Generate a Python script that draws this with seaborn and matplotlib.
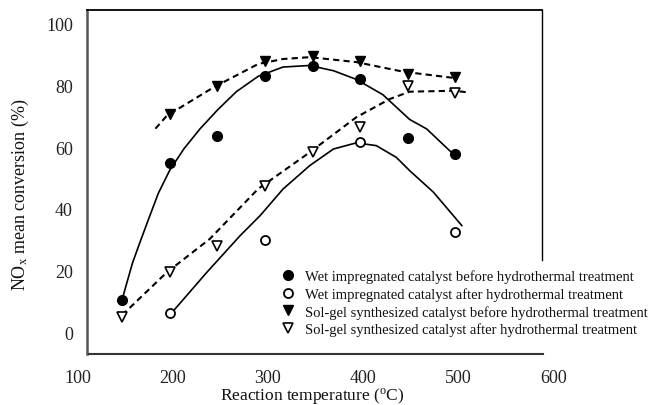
import matplotlib
matplotlib.use("Agg")
import matplotlib.pyplot as plt
import matplotlib.transforms as mtransforms
import seaborn as sns
import pandas as pd

# ---- data ----
temps_wet_before = [150, 200, 250, 300, 350, 400, 450, 500]
conv_wet_before = [10.4, 55, 63.7, 83.2, 86.3, 82.1, 63, 57.8]
temps_wet_after = [200, 300, 400, 500]
conv_wet_after = [6.2, 30, 61.8, 32.4]
temps_sol_before = [200, 250, 300, 350, 400, 450, 500]
conv_sol_before = [70.8, 79.8, 87.8, 89.5, 88.1, 83.8, 82.7]
temps_sol_after = [150, 200, 250, 300, 350, 400, 450, 500]
conv_sol_after = [5, 19.4, 28, 47.3, 58.3, 66.5, 79.8, 77.5]

# trend curves as traced on the reference
curve_wet_before_x = [150, 155, 161, 168, 177, 188, 200, 215, 232, 250, 270, 293, 319, 347, 372, 396, 424, 452, 470, 497]
curve_wet_before_y = [10.5, 16, 22.5, 28.5, 36, 45, 52.5, 59.5, 66, 72, 78, 83, 86, 86.5, 84.8, 82, 77, 69, 65.9, 58]
curve_wet_after_x = [200, 239, 274, 295, 319, 347, 372, 396, 417, 438, 452, 477, 507]
curve_wet_after_y = [5.5, 19.4, 31.3, 37.8, 46.4, 54, 59.4, 61.4, 60.5, 56.7, 52.4, 45.4, 34.5]
curve_sol_before_x = [185, 197, 246, 293, 319, 347, 396, 445, 500]
curve_sol_before_y = [66, 70.2, 79.4, 87, 88.6, 89.2, 87.6, 84.5, 82.4]
curve_sol_after_x = [150, 197, 242, 293, 347, 396, 431, 452, 498, 513]
curve_sol_after_y = [5.5, 19.4, 30.2, 46.5, 58.3, 69.7, 75.6, 78, 78.3, 77.8]

labels = [
    "Wet impregnated catalyst before hydrothermal treatment",
    "Wet impregnated catalyst after hydrothermal treatment",
    "Sol-gel synthesized catalyst before hydrothermal treatment",
    "Sol-gel synthesized catalyst after hydrothermal treatment",
]
x_ticks = [100, 200, 300, 400, 500, 600]
y_ticks = [0, 20, 40, 60, 80, 100]

sns.set_theme(style="white")
plt.rcParams["font.family"] = ["Liberation Serif", "DejaVu Serif"]
plt.rcParams["mathtext.fontset"] = "custom"
plt.rcParams["mathtext.rm"] = "Liberation Serif"
plt.rcParams["mathtext.it"] = "Liberation Serif:italic"

fig = plt.figure(figsize=(6.54, 4.06), dpi=100)
ax = fig.add_axes([74.5 / 654, 1 - 355 / 406, 476 / 654, 344 / 406])

# curves
solid_kw = dict(color="black", linewidth=1.2, estimator=None, sort=False, legend=False)
dash_kw = dict(color="black", linewidth=1.5, estimator=None, sort=False, legend=False,
               linestyle=(0, (3, 2)))
sns.lineplot(x=curve_wet_before_x, y=curve_wet_before_y, ax=ax, **solid_kw)
sns.lineplot(x=curve_wet_after_x, y=curve_wet_after_y, ax=ax, **solid_kw)
sns.lineplot(x=curve_sol_before_x, y=curve_sol_before_y, ax=ax, **dash_kw)
sns.lineplot(x=curve_sol_after_x, y=curve_sol_after_y, ax=ax, **dash_kw)

# markers
mk = dict(linestyle="", estimator=None, sort=False, markeredgecolor="black", color="black")
sns.lineplot(x=temps_wet_before, y=conv_wet_before, ax=ax, marker="o", markersize=7,
             markerfacecolor="black", markeredgewidth=1.0, label=labels[0], **mk)
sns.lineplot(x=temps_wet_after, y=conv_wet_after, ax=ax, marker="o", markersize=6.5,
             markerfacecolor="white", markeredgewidth=1.3, label=labels[1], **mk)
sns.lineplot(x=temps_sol_before, y=conv_sol_before, ax=ax, marker="v", markersize=7.5,
             markerfacecolor="black", markeredgewidth=1.0, label=labels[2], **mk)
sns.lineplot(x=temps_sol_after, y=conv_sol_after, ax=ax, marker="v", markersize=7,
             markerfacecolor="white", markeredgewidth=1.2, label=labels[3], **mk)

ax.set_xlim(100, 600)
ax.set_ylim(-7.1, 104.5)
ax.set_xticks(x_ticks)
ax.set_yticks(y_ticks)
ax.tick_params(axis="both", length=0, labelsize=13, colors="#222222")
ax.tick_params(axis="x", pad=11)
ax.tick_params(axis="y", pad=10)
for lab in ax.get_xticklabels():
    lab.set_transform(lab.get_transform() +
                      mtransforms.ScaledTranslation(3 / 100, 0, fig.dpi_scale_trans))

# spines like the scanned figure
ax.spines["left"].set_position(("data", 113))
ax.spines["left"].set_color("#555555")
ax.spines["left"].set_linewidth(1.8)
ax.spines["right"].set_position(("data", 591))
ax.spines["right"].set_bounds(23.5, 104.5)
ax.spines["right"].set_linewidth(1.0)
ax.spines["right"].set_color("black")
ax.spines["top"].set_bounds(113, 591)
ax.spines["top"].set_linewidth(1.3)
ax.spines["top"].set_color("black")
ax.spines["bottom"].set_bounds(115, 592)
ax.spines["bottom"].set_linewidth(1.5)
ax.spines["bottom"].set_color("#333333")

ax.set_xlabel("Reaction temperature ($^{\\rm o}$C)", fontsize=12.5, color="#111111")
ax.xaxis.set_label_coords((312 - 74.5) / 476, -(386 - 355) / 344)
ax.set_ylabel("NO$_{\\rm x}$ mean conversion (%)", fontsize=13, color="#111111")
ax.yaxis.set_label_coords(-(74.5 - 31) / 476, (355 - 195) / 344)

handles, labs = ax.get_legend_handles_labels()
leg = ax.legend(handles, labs, loc="upper left",
                bbox_to_anchor=(281 / 654, 1 - 270 / 406), bbox_transform=fig.transFigure,
                frameon=False, fontsize=10.5, handlelength=1.0, handletextpad=0.65,
                labelspacing=0.28, borderpad=0, borderaxespad=0)
for t in leg.get_texts():
    t.set_color("#111111")

fig.savefig("out.png", dpi=100)
